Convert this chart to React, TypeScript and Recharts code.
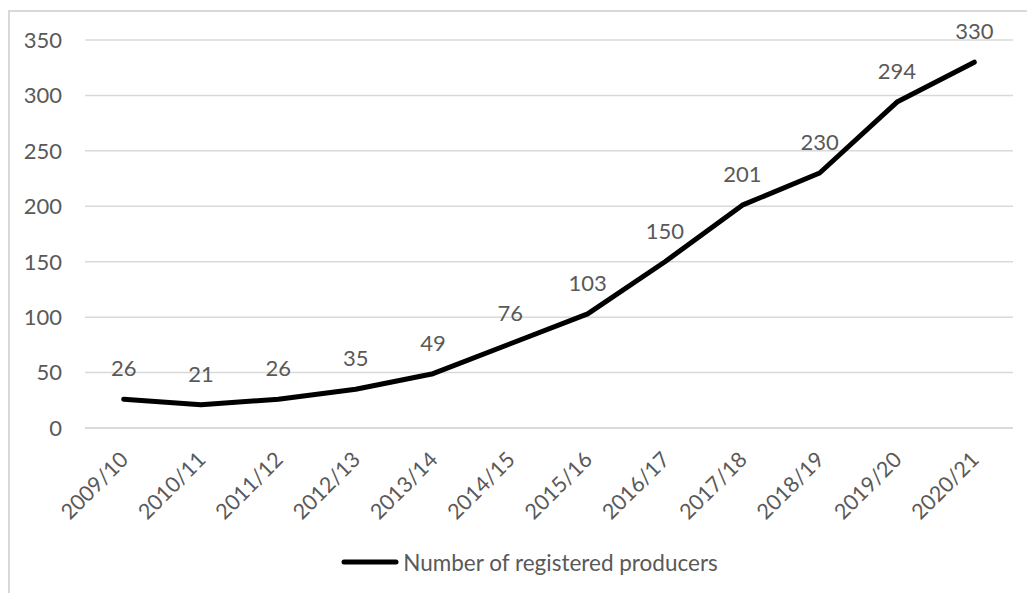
import React from 'react';
import { LineChart, Line, XAxis, YAxis, CartesianGrid, Legend, LabelList } from 'recharts';

// Seasons on the category axis
const seasons = [
  '2009/10', '2010/11', '2011/12', '2012/13', '2013/14', '2014/15',
  '2015/16', '2016/17', '2017/18', '2018/19', '2019/20', '2020/21',
];

// Registered producers per season
const producers = [26, 21, 26, 35, 49, 76, 103, 150, 201, 230, 294, 330];

const yTicks = [0, 50, 100, 150, 200, 250, 300, 350];

const seriesName = 'Number of registered producers';

const data = seasons.map((season, i) => ({ season, producers: producers[i] }));

const FONT = 'Lato, "Open Sans", sans-serif';
const TEXT = '#595959';
const GRID = '#d9d9d9';
// half of one category band, so points sit in the middle of their slot
const HALF_BAND = 38.7;

const SeasonTick = (props: any) => {
  const { x, y, payload } = props;
  const tx = x + 6;
  const ty = y + 25;
  return (
    <text
      x={tx}
      y={ty}
      textAnchor="end"
      fill={TEXT}
      fontSize={21.5}
      fontFamily={FONT}
      transform={`rotate(-45 ${tx} ${ty})`}
    >
      {payload.value}
    </text>
  );
};

const ValueLabel = (props: any) => {
  const { x, y, value } = props;
  return (
    <text x={x} y={y - 23} textAnchor="middle" fill={TEXT} fontSize={22} fontFamily={FONT}>
      {value}
    </text>
  );
};

const LegendContent = () => (
  <div style={{ display: 'flex', justifyContent: 'center', alignItems: 'center', height: 24, paddingLeft: 46 }}>
    <svg width={58} height={10} style={{ marginRight: 4 }}>
      <line x1={3} y1={5} x2={55} y2={5} stroke="#000" strokeWidth={5} strokeLinecap="round" />
    </svg>
    <span style={{ fontFamily: FONT, fontSize: 22.5, color: TEXT }}>{seriesName}</span>
  </div>
);

const App = () => {
  return (
    <div style={{ position: 'fixed', left: 0, top: 0, width: 1027, height: 593, background: '#fff' }}>
      {/* chart frame, only the top and left edges fall inside the view */}
      <div
        style={{
          position: 'absolute',
          left: 8,
          top: 10,
          width: 1100,
          height: 700,
          borderTop: `2px solid ${GRID}`,
          borderLeft: `2px solid ${GRID}`,
        }}
      />
      <div style={{ position: 'absolute', left: 0, top: 0 }}>
        <LineChart width={1027} height={593} data={data} margin={{ top: 40, right: 14, bottom: 19, left: 0 }}>
          <CartesianGrid vertical={false} stroke={GRID} strokeWidth={1.5} />
          <XAxis
            dataKey="season"
            axisLine={{ stroke: GRID, strokeWidth: 1.5 }}
            tickLine={false}
            interval={0}
            height={122}
            padding={{ left: HALF_BAND, right: HALF_BAND }}
            tick={<SeasonTick />}
          />
          <YAxis
            domain={[0, 350]}
            ticks={yTicks}
            axisLine={false}
            tickLine={false}
            tickSize={0}
            tickMargin={23}
            width={85}
            tick={{ fill: TEXT, fontSize: 22, fontFamily: FONT }}
          />
          <Legend verticalAlign="bottom" content={<LegendContent />} />
          <Line
            type="linear"
            dataKey="producers"
            name={seriesName}
            stroke="#000"
            strokeWidth={5}
            strokeLinecap="round"
            strokeLinejoin="round"
            dot={false}
            activeDot={false}
            isAnimationActive={false}
          >
            <LabelList dataKey="producers" content={<ValueLabel />} />
          </Line>
        </LineChart>
      </div>
    </div>
  );
};

export default App;
